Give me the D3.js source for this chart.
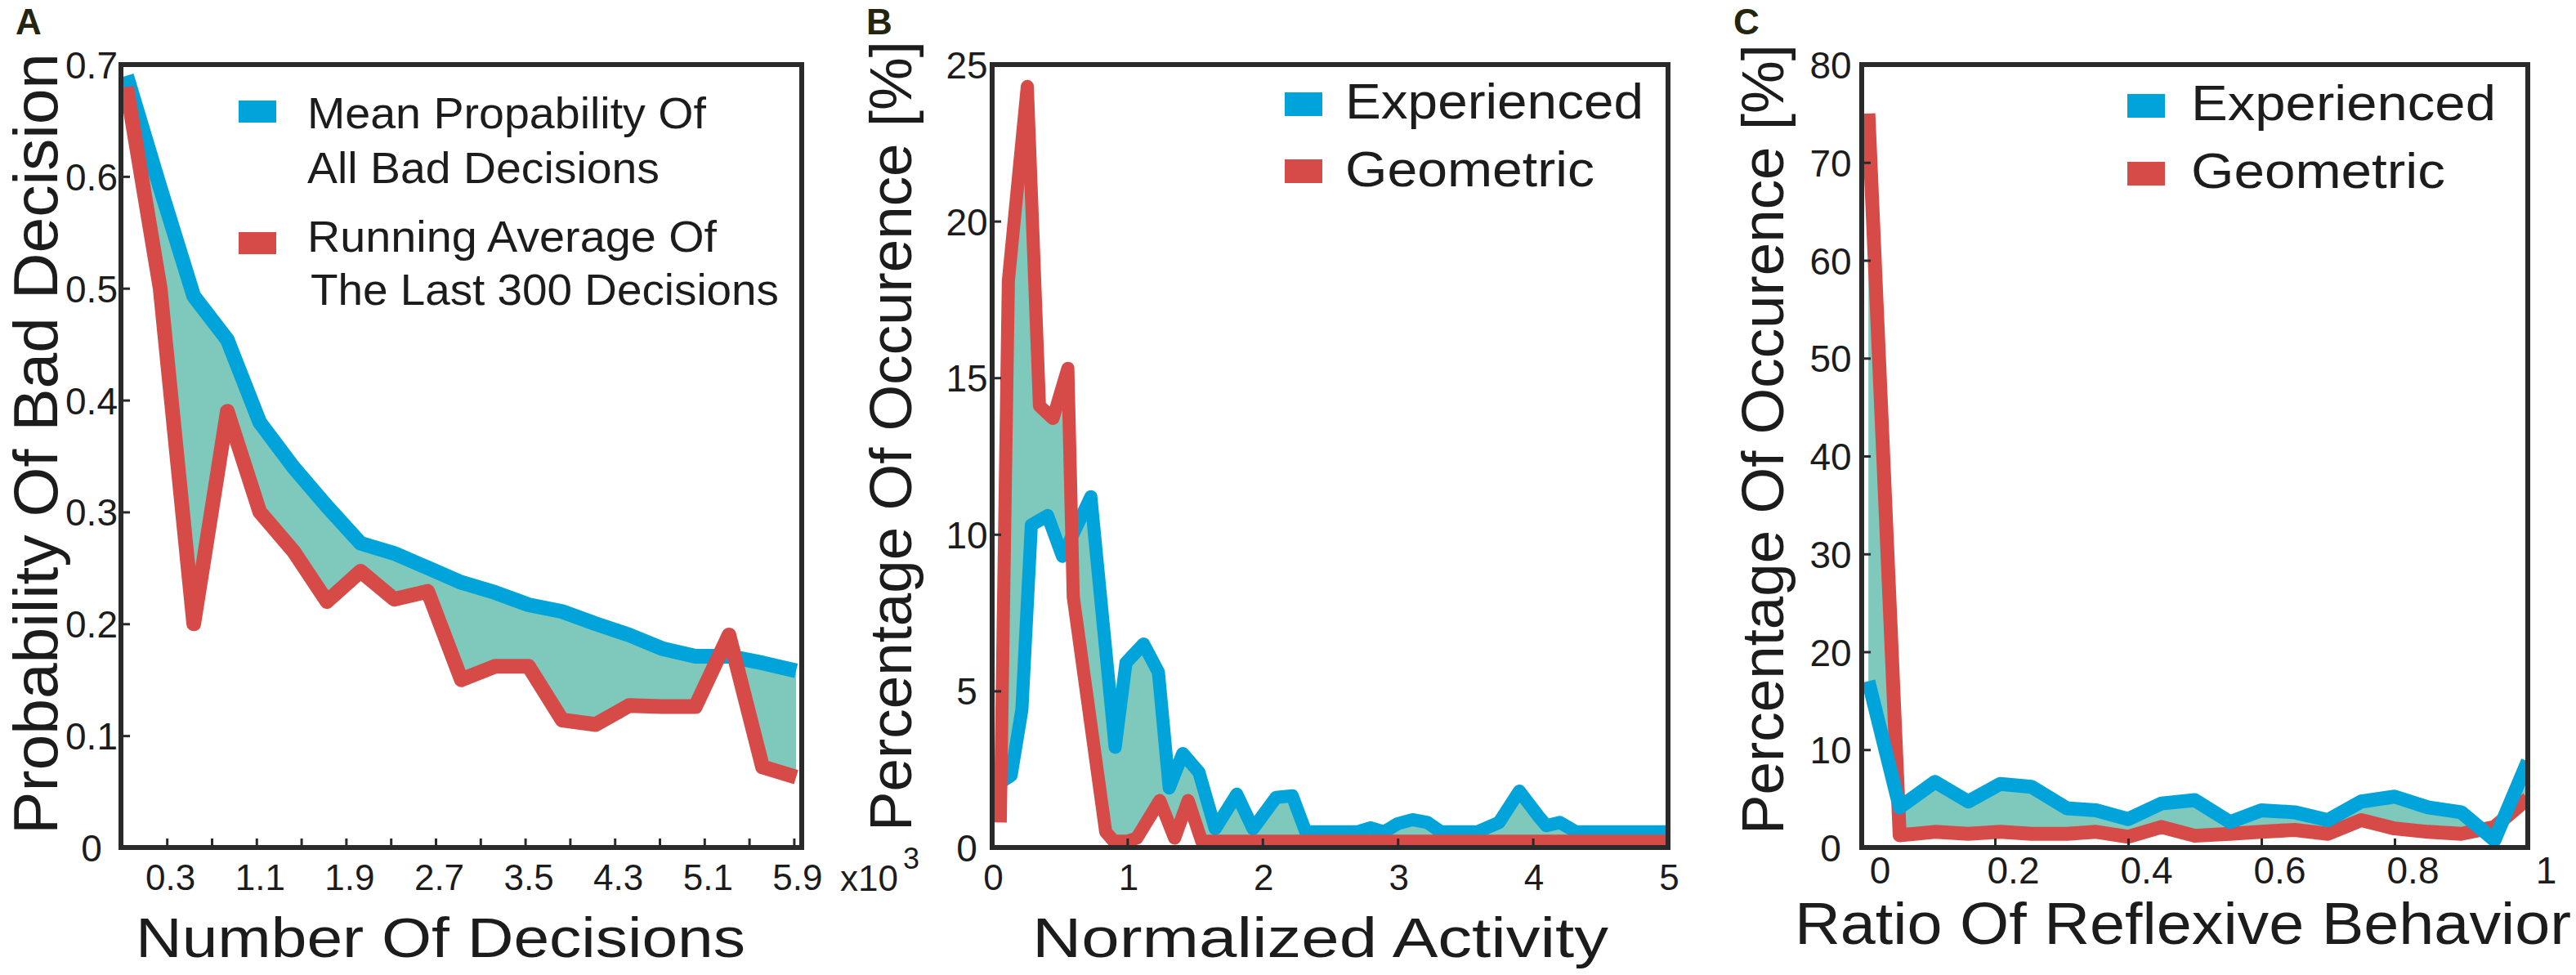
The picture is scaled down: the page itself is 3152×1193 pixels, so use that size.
<!DOCTYPE html>
<html>
<head>
<meta charset="utf-8">
<script src="https://cdn.jsdelivr.net/npm/d3@7"></script>
<style>
  body { margin: 0; background: #fff; }
  svg { display: block; }
  text { font-family: "Liberation Sans", Arial, sans-serif; fill: #1c1c1c; }
</style>
</head>
<body>
<div id="fig"></div>
<script>

// ---- panel A : probability of bad decision ----
const decisions  = [-0.06, 0.24, 0.54, 0.84, 1.13, 1.43, 1.73, 2.03, 2.33, 2.63, 2.93, 3.23, 3.53, 3.83, 4.13, 4.43, 4.72, 5.02, 5.32, 5.62, 5.92];
const meanBad    = [0.69, 0.59, 0.493, 0.454, 0.38, 0.34, 0.305, 0.272, 0.263, 0.25, 0.237, 0.228, 0.217, 0.211, 0.20, 0.19, 0.178, 0.171, 0.171, 0.165, 0.158];
const runningAvg = [0.68, 0.50, 0.20, 0.39, 0.30, 0.265, 0.22, 0.247, 0.222, 0.229, 0.15, 0.162, 0.162, 0.114, 0.11, 0.127, 0.126, 0.126, 0.19, 0.072, 0.063];
const decisionTicks  = [0.3, 0.7, 1.1, 1.5, 1.9, 2.3, 2.7, 3.1, 3.5, 3.9, 4.3, 4.7, 5.1, 5.5, 5.9];
const decisionLabels = [0.3, 1.1, 1.9, 2.7, 3.5, 4.3, 5.1, 5.9];
const badTicks = [0, 0.1, 0.2, 0.3, 0.4, 0.5, 0.6, 0.7];

// ---- panel B : normalized activity ----
const activityExpX = [0.0, 0.14, 0.22, 0.29, 0.41, 0.52, 0.62, 0.73, 0.91, 0.99, 1.12, 1.23, 1.31, 1.41, 1.53, 1.65, 1.81, 1.93, 2.1, 2.22, 2.32, 2.7, 2.8, 2.9, 3.0, 3.11, 3.22, 3.32, 3.59, 3.75, 3.9, 4.05, 4.1, 4.2, 4.32, 5.0];
const activityExpY = [1.9, 2.3, 4.4, 10.3, 10.6, 9.3, 10.2, 11.2, 3.2, 5.9, 6.5, 5.6, 1.9, 3.0, 2.4, 0.6, 1.7, 0.6, 1.6, 1.65, 0.5, 0.5, 0.63, 0.5, 0.76, 0.89, 0.8, 0.5, 0.5, 0.8, 1.8, 0.95, 0.7, 0.8, 0.5, 0.5];
const activityGeoX = [0.06, 0.12, 0.26, 0.35, 0.45, 0.56, 0.60, 0.84, 0.90, 1.0, 1.07, 1.24, 1.35, 1.45, 1.55, 5.0];
const activityGeoY = [0.8, 18.1, 24.3, 14.1, 13.7, 15.3, 8.0, 0.5, 0.2, 0.2, 0.3, 1.5, 0.3, 1.5, 0.2, 0.2];
const activityTicks = [0, 1, 2, 3, 4, 5];
const occurTicksB = [0, 5, 10, 15, 20, 25];

// ---- panel C : ratio of reflexive behavior ----
const reflexRatio = [0.01, 0.057, 0.11, 0.16, 0.208, 0.255, 0.308, 0.352, 0.40, 0.45, 0.50, 0.553, 0.60, 0.65, 0.70, 0.75, 0.80, 0.85, 0.90, 0.95, 1.0];
const reflexExp   = [17.0, 4.1, 6.7, 4.7, 6.5, 6.2, 4.0, 3.8, 2.9, 4.5, 4.85, 2.6, 3.8, 3.6, 2.8, 4.7, 5.2, 4.1, 3.6, 0.75, 8.8];
const reflexGeo   = [75, 1.25, 1.6, 1.4, 1.6, 1.4, 1.4, 1.6, 1.1, 2.1, 1.2, 1.4, 1.6, 1.8, 1.4, 2.8, 1.95, 1.6, 1.4, 2.1, 5.0];
const ratioTicks  = [0, 0.2, 0.4, 0.6, 0.8, 1];
const occurTicksC = [0, 10, 20, 30, 40, 50, 60, 70, 80];

const blue = '#00a4db', red = '#d64b47', teal = '#7fc8bc';
const frameColor = '#2a2a2a';
const plotTop = 79, plotBottom = 1037;

const svg = d3.select('#fig')
    .append('svg')
    .attr('width', 3152)
    .attr('height', 1193);
const defs = svg.append('defs');

function clipFor(id, left, right) {
    defs.append('clipPath').attr('id', id)
        .append('rect')
        .attr('x', left).attr('y', plotTop)
        .attr('width', right - left).attr('height', plotBottom - plotTop);
}

function frame(g, left, right) {
    g.append('rect')
        .attr('x', left).attr('y', plotTop)
        .attr('width', right - left).attr('height', plotBottom - plotTop)
        .attr('fill', 'none')
        .attr('stroke', frameColor)
        .attr('stroke-width', 6);
}

function innerTicks(g, axis) {
    g.call(axis.tickSize(-11).tickFormat(''))
        .call(s => s.select('.domain').remove())
        .attr('color', frameColor)
        .selectAll('line').attr('stroke-width', 3);
}

function tickText(g, size, dx, dy) {
    g.call(s => s.select('.domain').remove())
        .attr('font-family', null)
        .attr('font-size', null)
        .selectAll('text')
        .attr('text-anchor', 'middle')
        .style('font-size', size + 'px')
        .attr('dx', dx)
        .attr('dy', dy);
}

function legend(g, x0, yBlue, yRed, h, texts) {
    g.append('rect').attr('x', x0).attr('y', yBlue).attr('width', 46).attr('height', h).attr('fill', blue);
    g.append('rect').attr('x', x0).attr('y', yRed).attr('width', 46).attr('height', h).attr('fill', red);
    texts.forEach(t => {
        g.append('text')
            .attr('x', t.x).attr('y', t.y)
            .attr('textLength', t.len).attr('lengthAdjust', 'spacingAndGlyphs')
            .style('font-size', t.size + 'px')
            .text(t.s);
    });
}

function axisTitle(g, s, x, y, len, size, rotate) {
    g.append('text')
        .attr('transform', rotate ? `translate(${x},${y}) rotate(-90)` : `translate(${x},${y})`)
        .attr('textLength', len).attr('lengthAdjust', 'spacingAndGlyphs')
        .style('font-size', size + 'px')
        .text(s);
}

function panelLetter(s, x, y) {
    svg.append('text')
        .attr('x', x).attr('y', y)
        .style('font-size', '44px')
        .style('font-weight', 'bold')
        .style('fill', '#24250f')
        .text(s);
}

function drawDecisions() {
    const left = 148, right = 981;
    const x = d3.scaleLinear().domain([-0.11, 5.97]).range([left, right]);
    const y = d3.scaleLinear().domain([0, 0.7]).range([plotBottom, plotTop]);
    const g = svg.append('g');
    clipFor('clipA', left, right);

    const pts = decisions.map((d, i) => ({x: d, hi: meanBad[i], lo: runningAvg[i]}));
    const plot = g.append('g').attr('clip-path', 'url(#clipA)');
    plot.append('path').datum(pts)
        .attr('fill', teal)
        .attr('d', d3.area().x(d => x(d.x)).y0(d => y(d.lo)).y1(d => y(d.hi)));
    plot.append('path').datum(pts)
        .attr('fill', 'none').attr('stroke', blue).attr('stroke-width', 18)
        .attr('stroke-linejoin', 'round')
        .attr('d', d3.line().x(d => x(d.x)).y(d => y(d.hi)));
    plot.append('path').datum(pts)
        .attr('fill', 'none').attr('stroke', red).attr('stroke-width', 18)
        .attr('stroke-linejoin', 'round')
        .attr('d', d3.line().x(d => x(d.x)).y(d => y(d.lo)));

    innerTicks(g.append('g').attr('transform', `translate(0,${plotBottom})`), d3.axisBottom(x).tickValues(decisionTicks));
    innerTicks(g.append('g').attr('transform', `translate(${left},0)`), d3.axisLeft(y).tickValues(badTicks));

    tickText(g.append('g').attr('transform', `translate(0,${plotBottom})`)
        .call(d3.axisBottom(x).tickValues(decisionLabels).tickSize(0).tickPadding(21).tickFormat(d => d)), 44, 4, '0.71em');
    tickText(g.append('g').attr('transform', `translate(${left},0)`)
        .call(d3.axisLeft(y).tickValues(badTicks).tickSize(0).tickPadding(0).tickFormat(d => d)), 46, -36, '0.36em');

    frame(g, left, right);

    legend(g, 292, 123, 284, 27, [
        {s: 'Mean Propability Of', x: 376, y: 157, len: 488, size: 54},
        {s: 'All Bad Decisions', x: 376, y: 224, len: 431, size: 54},
        {s: 'Running Average Of', x: 376, y: 308, len: 501, size: 54},
        {s: 'The Last 300 Decisions', x: 380, y: 373, len: 573, size: 54}
    ]);

    axisTitle(g, 'Probability Of Bad Decision', 70, 1021, 956, 76, true);
    axisTitle(g, 'Number Of Decisions', 166, 1171, 746, 68, false);

    // x10^3 multiplier of the decision axis
    g.append('text').attr('x', 1028).attr('y', 1090).style('font-size', '44px').text('x10');
    g.append('text').attr('x', 1105).attr('y', 1063).style('font-size', '36px').text('3');
}

function drawActivity() {
    const left = 1214, right = 2041;
    const x = d3.scaleLinear().domain([0, 5]).range([left, right]);
    const y = d3.scaleLinear().domain([0, 25]).range([plotBottom, plotTop]);
    const g = svg.append('g');
    clipFor('clipB', left, right);

    const expPts = activityExpX.map((v, i) => [x(v), y(activityExpY[i])]);
    const geoPts = activityGeoX.map((v, i) => [x(v), y(activityGeoY[i])]);
    const plot = g.append('g').attr('clip-path', 'url(#clipB)');
    plot.append('path')
        .attr('fill', teal)
        .attr('d', d3.line()(expPts.concat(geoPts.slice().reverse())) + 'Z');
    plot.append('path')
        .attr('fill', 'none').attr('stroke', blue).attr('stroke-width', 16)
        .attr('stroke-linejoin', 'round')
        .attr('d', d3.line()(expPts));
    plot.append('path')
        .attr('fill', 'none').attr('stroke', red).attr('stroke-width', 16)
        .attr('stroke-linejoin', 'round')
        .attr('d', d3.line()(geoPts));

    innerTicks(g.append('g').attr('transform', `translate(0,${plotBottom})`), d3.axisBottom(x).tickValues(activityTicks));
    innerTicks(g.append('g').attr('transform', `translate(${left},0)`), d3.axisLeft(y).tickValues(occurTicksB));

    tickText(g.append('g').attr('transform', `translate(0,${plotBottom})`)
        .call(d3.axisBottom(x).tickValues(activityTicks).tickSize(0).tickPadding(21).tickFormat(d => d)), 44, 1, '0.71em');
    tickText(g.append('g').attr('transform', `translate(${left},0)`)
        .call(d3.axisLeft(y).tickValues(occurTicksB).tickSize(0).tickPadding(0).tickFormat(d => d)), 46, -31, '0.36em');

    frame(g, left, right);

    legend(g, 1572, 113, 195, 29, [
        {s: 'Experienced', x: 1646, y: 145, len: 365, size: 62},
        {s: 'Geometric', x: 1646, y: 228, len: 305, size: 62}
    ]);

    axisTitle(g, 'Percentage Of Occurence [%]', 1115, 1017, 967, 73, true);
    axisTitle(g, 'Normalized Activity', 1263, 1171, 705, 68, false);
}

function drawReflex() {
    const left = 2278, right = 3093;
    const x = d3.scaleLinear().domain([0, 1]).range([left, right]);
    const y = d3.scaleLinear().domain([0, 80]).range([plotBottom, plotTop]);
    const g = svg.append('g');
    clipFor('clipC', left, right);

    const pts = reflexRatio.map((d, i) => ({x: d, e: reflexExp[i], r: reflexGeo[i]}));
    const plot = g.append('g').attr('clip-path', 'url(#clipC)');
    plot.append('path').datum(pts)
        .attr('fill', teal)
        .attr('d', d3.area().x(d => x(d.x)).y0(d => y(d.r)).y1(d => y(d.e)));
    plot.append('path').datum(pts)
        .attr('fill', 'none').attr('stroke', red).attr('stroke-width', 17)
        .attr('stroke-linejoin', 'round')
        .attr('d', d3.line().x(d => x(d.x)).y(d => y(d.r)));
    plot.append('path').datum(pts)
        .attr('fill', 'none').attr('stroke', blue).attr('stroke-width', 17)
        .attr('stroke-linejoin', 'round')
        .attr('d', d3.line().x(d => x(d.x)).y(d => y(d.e)));

    innerTicks(g.append('g').attr('transform', `translate(0,${plotBottom})`), d3.axisBottom(x).tickValues(ratioTicks));
    innerTicks(g.append('g').attr('transform', `translate(${left},0)`), d3.axisLeft(y).tickValues(occurTicksC));

    tickText(g.append('g').attr('transform', `translate(0,${plotBottom})`)
        .call(d3.axisBottom(x).tickValues(ratioTicks).tickSize(0).tickPadding(11).tickFormat(d => d)), 46, 22, '0.71em');
    tickText(g.append('g').attr('transform', `translate(${left},0)`)
        .call(d3.axisLeft(y).tickValues(occurTicksC).tickSize(0).tickPadding(0).tickFormat(d => d)), 46, -38, '0.36em');

    frame(g, left, right);

    legend(g, 2603, 115, 198, 29, [
        {s: 'Experienced', x: 2681, y: 147, len: 373, size: 62},
        {s: 'Geometric', x: 2681, y: 230, len: 311, size: 62}
    ]);

    axisTitle(g, 'Percentage Of Occurence [%]', 2182, 1021, 967, 73, true);
    axisTitle(g, 'Ratio Of Reflexive Behavior', 2196, 1155, 950, 72, false);
}

drawDecisions();
drawActivity();
drawReflex();

panelLetter('A', 19, 42);
panelLetter('B', 1060, 42);
panelLetter('C', 2121, 42);

</script>
</body>
</html>
